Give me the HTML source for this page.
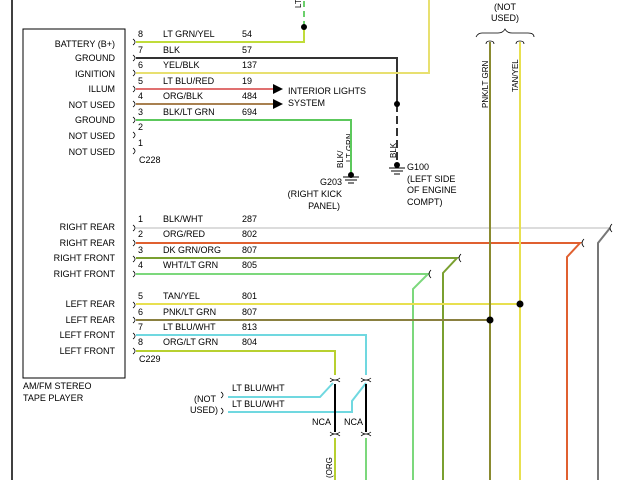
<!DOCTYPE html>
<html><head><style>html,body{margin:0;padding:0;background:#fff}svg{display:block}</style></head><body>
<svg width="640" height="480" viewBox="0 0 640 480" xmlns="http://www.w3.org/2000/svg" font-family="Liberation Sans, sans-serif" font-size="9" fill="#000">
<rect width="640" height="480" fill="#fff"/>
<line x1="12" y1="0" x2="12" y2="480" stroke="#000" stroke-width="1.5"/>
<rect x="23" y="29" width="102" height="349" fill="none" stroke="#000" stroke-width="1"/>
<g text-anchor="end">
<text x="115" y="47">BATTERY (B+)</text><text x="115" y="61">GROUND</text><text x="115" y="77">IGNITION</text><text x="115" y="92">ILLUM</text><text x="115" y="108">NOT USED</text><text x="115" y="123">GROUND</text><text x="115" y="139">NOT USED</text><text x="115" y="155">NOT USED</text>
<text x="115" y="230">RIGHT REAR</text><text x="115" y="246">RIGHT REAR</text><text x="115" y="261">RIGHT FRONT</text><text x="115" y="277">RIGHT FRONT</text>
<text x="115" y="307">LEFT REAR</text><text x="115" y="323">LEFT REAR</text><text x="115" y="338">LEFT FRONT</text><text x="115" y="354">LEFT FRONT</text>
</g>
<g fill="none" stroke="#000" stroke-width="0.8">
<path d="M133 39 q4 3 0 6"/><path d="M133 55 q4 3 0 6"/><path d="M133 70 q4 3 0 6"/><path d="M133 86 q4 3 0 6"/><path d="M133 101 q4 3 0 6"/><path d="M133 117 q4 3 0 6"/><path d="M133 132 q4 3 0 6"/><path d="M133 148 q4 3 0 6"/>
<path d="M133 225 q4 3 0 6"/><path d="M133 240 q4 3 0 6"/><path d="M133 256 q4 3 0 6"/><path d="M133 271 q4 3 0 6"/><path d="M133 302 q4 3 0 6"/><path d="M133 317 q4 3 0 6"/><path d="M133 333 q4 3 0 6"/><path d="M133 348 q4 3 0 6"/>
</g>
<g font-size="9">
<text x="138" y="37">8</text><text x="138" y="53">7</text><text x="138" y="68">6</text><text x="138" y="84">5</text><text x="138" y="99">4</text><text x="138" y="115">3</text><text x="138" y="130">2</text><text x="138" y="146">1</text><text x="139" y="163">C228</text>
<text x="163" y="37">LT GRN/YEL</text><text x="163" y="53">BLK</text><text x="163" y="68">YEL/BLK</text><text x="163" y="84">LT BLU/RED</text><text x="163" y="99">ORG/BLK</text><text x="163" y="115">BLK/LT GRN</text>
<text x="242" y="37">54</text><text x="242" y="53">57</text><text x="242" y="68">137</text><text x="242" y="84">19</text><text x="242" y="99">484</text><text x="242" y="115">694</text>
<text x="138" y="222">1</text><text x="138" y="237">2</text><text x="138" y="253">3</text><text x="138" y="268">4</text><text x="138" y="299">5</text><text x="138" y="315">6</text><text x="138" y="330">7</text><text x="138" y="345">8</text><text x="139" y="362">C229</text>
<text x="163" y="222">BLK/WHT</text><text x="163" y="237">ORG/RED</text><text x="163" y="253">DK GRN/ORG</text><text x="163" y="268">WHT/LT GRN</text><text x="163" y="299">TAN/YEL</text><text x="163" y="315">PNK/LT GRN</text><text x="163" y="330">LT BLU/WHT</text><text x="163" y="345">ORG/LT GRN</text>
<text x="242" y="222">287</text><text x="242" y="237">802</text><text x="242" y="253">807</text><text x="242" y="268">805</text><text x="242" y="299">801</text><text x="242" y="315">807</text><text x="242" y="330">813</text><text x="242" y="345">804</text>
<text x="23" y="389">AM/FM STEREO</text><text x="23" y="401">TAPE PLAYER</text>
<text x="288" y="94">INTERIOR LIGHTS</text><text x="288" y="106">SYSTEM</text>
<text x="342" y="185" text-anchor="end">G203</text><text x="342" y="197" text-anchor="end">(RIGHT KICK</text><text x="340" y="209" text-anchor="end">PANEL)</text>
<text x="407" y="170">G100</text><text x="407" y="182">(LEFT SIDE</text><text x="407" y="193">OF ENGINE</text><text x="407" y="205">COMPT)</text>
<text x="505" y="10" text-anchor="middle">(NOT</text><text x="505" y="21" text-anchor="middle">USED)</text>
<text x="232" y="391">LT BLU/WHT</text><text x="232" y="407">LT BLU/WHT</text>
<text x="216" y="402" text-anchor="end">(NOT</text><text x="218" y="413" text-anchor="end">USED)</text>
<text x="312" y="425">NCA</text><text x="344" y="425">NCA</text>
</g>
<g font-size="8">
<text transform="translate(488 108) rotate(-90)">PNK/LT GRN</text>
<text transform="translate(518 92) rotate(-90)">TAN/YEL</text>
<text transform="translate(352 162) rotate(-90)">LT GRN</text>
<text transform="translate(343 168) rotate(-90)">BLK/</text>
<text transform="translate(396 158) rotate(-90)">BLK</text>
<text transform="translate(301 8) rotate(-90)">LT</text>
<text transform="translate(332 478) rotate(-90)">(ORG</text>
</g>
<g fill="none" stroke-width="2">
<path d="M136 42 H304 V27" stroke="#c0dc3a"/>
<path d="M304 27 V0" stroke="#6cd06c" stroke-dasharray="6,4"/>
<path d="M136 58 H397 V104" stroke="#333"/>
<path d="M397 104 V160" stroke="#333" stroke-dasharray="8,4"/>
<path d="M136 73 H429 V0" stroke="#e8e070"/>
<path d="M136 89 H273" stroke="#e07070"/>
<path d="M136 104 H273" stroke="#a88050"/>
<path d="M136 120 H351 V175" stroke="#5cc85c"/>
<path d="M136 228 H610" stroke="#dcdcdc"/>
<path d="M610 228 L598 243 V480" stroke="#777"/>
<path d="M136 243 H580 L567 257 V480" stroke="#e06030"/>
<path d="M136 258 H457 L443 273 V480" stroke="#7aa030"/>
<path d="M136 274 H428 L413 289 V480" stroke="#7cd87c"/>
<path d="M136 304 H520" stroke="#e8e050"/>
<path d="M136 320 H490" stroke="#8a8040"/>
<path d="M136 335 H366 V375" stroke="#70d8e0"/>
<path d="M136 351 H335 V375" stroke="#b8d030"/>
<path d="M490 42 V480" stroke="#8a8a30"/>
<path d="M520 42 V480" stroke="#e8e050"/>
<path d="M228 397 H320 L333 383" stroke="#70d8e0"/>
<path d="M228 412 H352 V401 L366 383" stroke="#70d8e0"/>
<path d="M335 384 V432 M366 384 V432" stroke="#000"/>
<path d="M335 438 V480" stroke="#b8d030"/>
<path d="M366 438 V480" stroke="#7cd87c"/>
</g>
<g fill="none" stroke="#000" stroke-width="0.8">
<path d="M612 224 q-4 4 0 8"/><path d="M584 239 q-4 4 0 8"/><path d="M461 254 q-4 4 0 8"/><path d="M431 270 q-4 4 0 8"/>
<path d="M476 37 q2 -4 6 -4 h16 q5 0 7 -4 q2 4 7 4 h16 q6 0 6 4"/>
<path d="M486 44 q0 -3 4 -3 q4 0 4 3 M516 44 q0 -3 4 -3 q4 0 4 3"/>
<path d="M330 378 q5 4 10 0 M330 382 q5 -4 10 0 M361 378 q5 4 10 0 M361 382 q5 -4 10 0"/>
<path d="M330 432 q5 4 10 0 M330 436 q5 -4 10 0 M361 432 q5 4 10 0 M361 436 q5 -4 10 0"/>
<path d="M221 392 q4 3 0 6 M221 408 q4 3 0 6"/>
</g>
<polygon points="273,84 283,89 273,94" fill="#000"/>
<polygon points="273,99 283,104 273,109" fill="#000"/>
<circle cx="304" cy="27" r="3"/><circle cx="397" cy="104" r="3"/><circle cx="520" cy="304" r="3.5"/><circle cx="490" cy="320" r="3.5"/>
<g stroke="#000" stroke-width="1">
<path d="M343 177 H359 M345 180 H357 M348 183 H354"/><circle cx="351" cy="175" r="2.5"/>
<path d="M389 168 H405 M391 171 H403 M394 174 H400"/><circle cx="397" cy="165" r="2.5"/>
</g>
</svg>
</body></html>
